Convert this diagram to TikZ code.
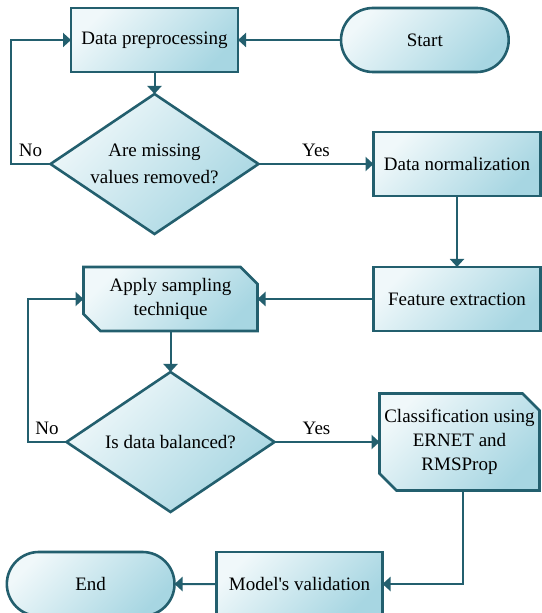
\documentclass[tikz,border=0pt]{standalone}
\usepackage{fontspec}
\setmainfont{Liberation Serif}
\usepackage{xcolor}
\usepackage{tikz}
\usetikzlibrary{shapes.geometric,shapes.misc,arrows.meta,positioning,backgrounds}

\definecolor{edgeteal}{HTML}{235F6E}
\definecolor{filllight}{HTML}{F0F8FA}
\definecolor{filldark}{HTML}{A7D6E2}

\begin{document}
\begin{tikzpicture}[
    font=\fontsize{9.5}{12}\selectfont,
    shaded/.style={draw=edgeteal, line width=1.3pt, outer sep=0pt, top color=filllight, bottom color=filldark, shading angle=45},
    box/.style={shaded, rectangle, minimum width=83.5pt, minimum height=32pt, align=center, inner sep=2pt},
    term/.style={shaded, rounded rectangle, minimum width=90.5pt, minimum height=32pt},
    decision/.style={shaded, diamond, aspect=1.5, minimum width=104pt, minimum height=70pt, inner sep=0pt, align=center},
    cutbox/.style={rectangle, outer sep=0pt, minimum width=87pt, minimum height=32pt, align=center, inner sep=2pt},
    arrow/.style={-{Triangle[length=4pt,width=7pt]}, line width=1pt, draw=edgeteal}
]
    \useasboundingbox (0,0) rectangle (270.5pt,-306.5pt);

    % First stage: cleaning
    \node[box] (prep) at (77.25pt,-20pt) {Data preprocessing};
    \node[term, right=51.5pt of prep] (start) {Start};
    \node[decision, below=11pt of prep] (miss) {Are missing\\[1.5pt]values removed?};
    \node[box, right=57.5pt of miss] (norm) {Data normalization};
    \node[box, below=35.5pt of norm] (feat) {Feature extraction};

    % Second stage: balancing
    \node[cutbox, left=58pt of feat] (samp) {Apply sampling\\technique};
    \node[decision, below=20.5pt of samp] (bal) {Is data balanced?};
    \node[cutbox, right=52.5pt of bal, minimum width=80pt, minimum height=48.5pt] (clas) {Classification using\\ERNET and\\RMSProp};

    % Cut-corner outlines behind the two text nodes
    \begin{scope}[on background layer]
        \foreach \n in {samp, clas}
            \draw[shaded] (\n.north west) -- ([xshift=-8.5pt]\n.north east)
                -- ([yshift=-8.5pt]\n.north east) -- (\n.south east)
                -- ([xshift=8.5pt]\n.south west) -- ([yshift=8.5pt]\n.south west) -- cycle;
    \end{scope}

    % Last stage
    \node[box, below=20pt of bal, xshift=64.5pt, minimum width=83pt] (valid) {Model\textquotesingle s validation};
    \node[term, left=21pt of valid] (end) {End};

    % Arrows
    \draw[arrow] (start) -- (prep);
    \draw[arrow] (prep) -- (miss);
    \draw[arrow] (miss.east) -- node[above] {Yes} (norm.west);
    \draw[arrow] (miss.west) -- node[above] {No} ++(-20pt,0) |- (prep.west);
    \draw[arrow] (norm) -- (feat);
    \draw[arrow] (feat) -- (samp);
    \draw[arrow] (samp) -- (bal);
    \draw[arrow] (bal.east) -- node[above, pos=0.4] {Yes} (clas.west);
    \draw[arrow] (bal.west) -- node[above] {No} ++(-19.5pt,0) |- (samp.west);
    \draw[arrow] ([xshift=1.5pt]clas.south) |- (valid.east);
    \draw[arrow] (valid) -- (end);
\end{tikzpicture}
\end{document}
